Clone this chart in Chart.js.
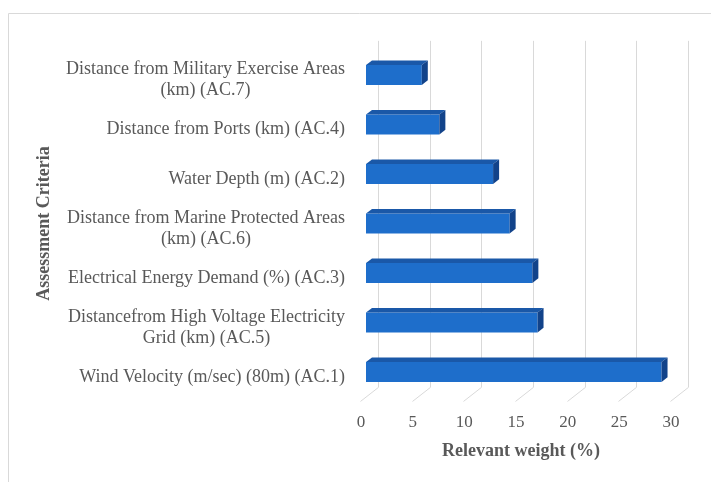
<!DOCTYPE html>
<html>
<head>
<meta charset="utf-8">
<script src="https://cdn.jsdelivr.net/npm/chart.js@4"></script>
<style>
  html, body { margin: 0; padding: 0; background: #fff; }
  #wrap { width: 711px; height: 482px; position: relative; }
</style>
</head>
<body>
<div id="wrap"><canvas id="c" width="711" height="482"></canvas></div>
<script>
// criteria, top to bottom as drawn
var CRITERIA = [
  ['Distance from Military Exercise Areas', '(km) (AC.7)'],
  ['Distance from Ports (km) (AC.4)'],
  ['Water Depth (m) (AC.2)'],
  ['Distance from Marine Protected Areas', '(km) (AC.6)'],
  ['Electrical Energy Demand (%) (AC.3)'],
  ['Distancefrom High Voltage Electricity', 'Grid (km) (AC.5)'],
  ['Wind Velocity (m/sec) (80m) (AC.1)']
];
var WEIGHTS = [5.4, 7.1, 12.3, 13.9, 16.1, 16.6, 28.6];
var X_TICKS = [0, 5, 10, 15, 20, 25, 30];

var SERIF = "'Liberation Serif', 'Times New Roman', serif";
var GREY = '#595959', GRID = '#d9d9d9';
var FRONT = '#1e6ecb', TOP = '#1a58a8', SIDE = '#12438a';
// 3D depth: back wall sits 12px right / 9.3px up of the bar plane, front floor 6px left / 4.7px down
var DX = 6, DY = 4.7;

var depth3d = {
  id: 'depth3d',
  beforeDatasetsDraw: function (chart) {
    var ctx = chart.ctx, xs = chart.scales.x, a = chart.chartArea;
    ctx.save();
    // outer frame
    ctx.strokeStyle = GRID; ctx.lineWidth = 1;
    ctx.beginPath();
    ctx.moveTo(8.5, 482); ctx.lineTo(8.5, 13.5); ctx.lineTo(711, 13.5);
    ctx.stroke();
    // back wall gridlines and floor diagonals
    X_TICKS.forEach(function (v) {
      var x = Math.round(xs.getPixelForValue(v) + 2 * DX) + 0.5;
      var yt = a.top - 2 * DY, yb = a.bottom - 2 * DY;
      ctx.beginPath();
      ctx.moveTo(x, yt); ctx.lineTo(x, yb);
      ctx.lineTo(x - 3 * DX, yb + 3 * DY);
      ctx.stroke();
    });
    ctx.restore();
  },
  afterDatasetsDraw: function (chart) {
    var ctx = chart.ctx;
    ctx.save();
    chart.getDatasetMeta(0).data.forEach(function (bar) {
      var p = bar.getProps(['x', 'y', 'base', 'height'], true);
      var t = p.y - p.height / 2, b = p.y + p.height / 2;
      ctx.fillStyle = TOP;
      ctx.beginPath();
      ctx.moveTo(p.base, t); ctx.lineTo(p.x, t);
      ctx.lineTo(p.x + DX, t - DY); ctx.lineTo(p.base + DX, t - DY);
      ctx.closePath(); ctx.fill();
      ctx.fillStyle = SIDE;
      ctx.beginPath();
      ctx.moveTo(p.x, t); ctx.lineTo(p.x + DX, t - DY);
      ctx.lineTo(p.x + DX, b - DY); ctx.lineTo(p.x, b);
      ctx.closePath(); ctx.fill();
    });
    ctx.restore();
  },
  afterDraw: function (chart) {
    // category labels: block right-aligned, lines centred within the block
    var ctx = chart.ctx, ys = chart.scales.y;
    var right = ys.right - 21, lh = 21;
    ctx.save();
    ctx.font = '18px ' + SERIF;
    ctx.fillStyle = GREY;
    ctx.textAlign = 'center';
    ctx.textBaseline = 'middle';
    CRITERIA.forEach(function (lines, i) {
      var w = Math.max.apply(null, lines.map(function (s) { return ctx.measureText(s).width; }));
      var cy = ys.getPixelForTick(i) + 5 - (lines.length - 1) * lh / 2;
      lines.forEach(function (s, j) { ctx.fillText(s, right - w / 2, cy + j * lh); });
    });
    ctx.restore();
  }
};

new Chart(document.getElementById('c').getContext('2d'), {
  type: 'bar',
  data: {
    labels: CRITERIA,
    datasets: [{
      data: WEIGHTS,
      backgroundColor: FRONT,
      borderWidth: 0,
      categoryPercentage: 1,
      barPercentage: 0.4
    }]
  },
  options: {
    indexAxis: 'y',
    responsive: false,
    animation: false,
    layout: { padding: { top: 50.25, right: 35, bottom: 0, left: 0 } },
    plugins: { legend: { display: false }, tooltip: { enabled: false } },
    scales: {
      x: {
        min: 0, max: 30,
        afterBuildTicks: function (s) { s.ticks = X_TICKS.map(function (v) { return { value: v }; }); },
        afterFit: function (s) { s.height = 482 - 396.75; },
        grid: { display: false, drawTicks: false },
        border: { display: false },
        ticks: { font: { family: SERIF, size: 17 }, color: GREY, padding: 16, labelOffset: -5, maxRotation: 0 },
        title: { display: true, text: 'Relevant weight (%)', color: GREY,
          font: { family: SERIF, size: 18, weight: 'bold' }, padding: { top: 0, bottom: 20 } }
      },
      y: {
        afterFit: function (s) { s.width = 366; },
        grid: { display: false, drawTicks: false },
        border: { display: false },
        ticks: { display: false },
        title: { display: true, text: 'Assessment Criteria', color: GREY,
          font: { family: SERIF, size: 18, weight: 'bold' }, padding: { top: 34, bottom: 0 } }
      }
    }
  },
  plugins: [depth3d]
});
</script>
</body>
</html>
